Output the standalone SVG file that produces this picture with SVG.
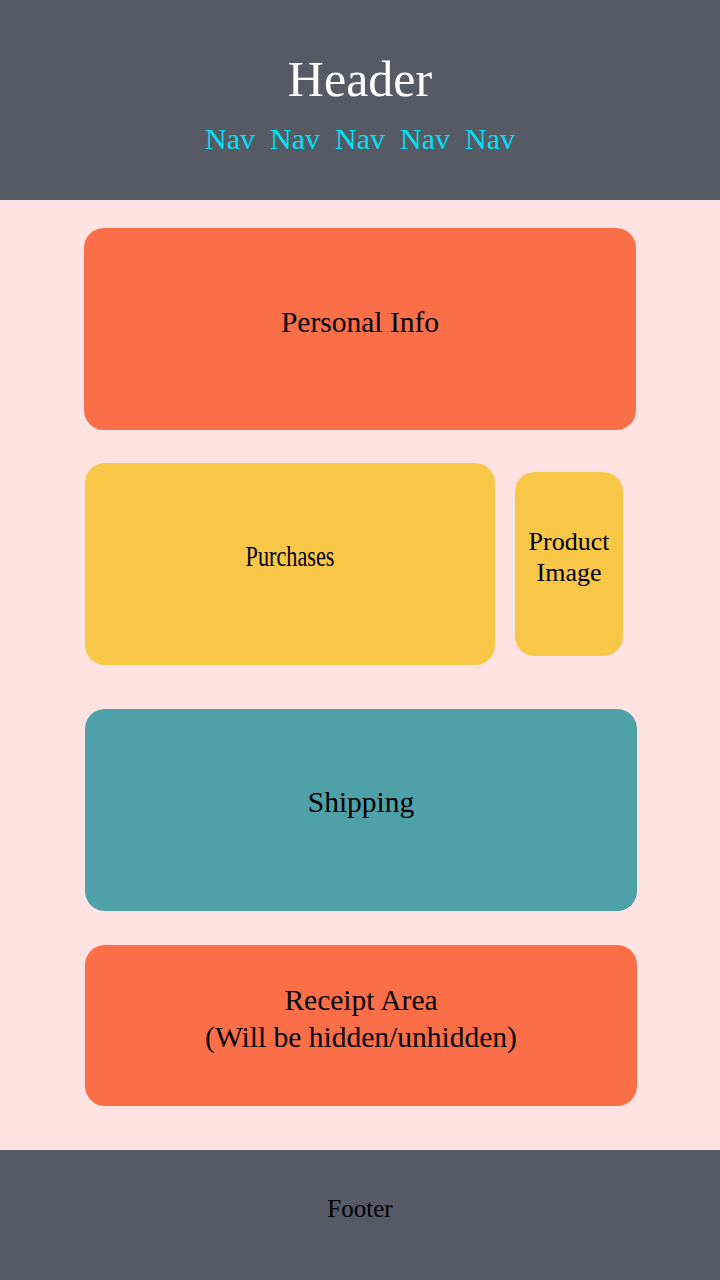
<svg xmlns="http://www.w3.org/2000/svg" width="720" height="1280" viewBox="0 0 720 1280">
<style>
text{font-family:"Liberation Serif","Times New Roman",serif;text-anchor:middle}
.lbl{font-size:29.5px;fill:#000}
.sm{font-size:26px;fill:#000}
.nav{font-size:30px;fill:#00e1f5}
</style>
<rect x="0" y="0" width="720" height="1280" fill="#ffe2e2"/>
<g id="header">
<rect x="0" y="0" width="720" height="200" fill="#555a64"/>
<text x="360" y="96" font-size="50" fill="#ffffff">Header</text>
<text class="nav" x="230" y="149">Nav</text>
<text class="nav" x="295" y="149">Nav</text>
<text class="nav" x="360" y="149">Nav</text>
<text class="nav" x="425" y="149">Nav</text>
<text class="nav" x="490" y="149">Nav</text>
</g>
<g id="personal-info">
<rect x="84" y="228" width="552" height="202" rx="20" fill="#fa6e48"/>
<text class="lbl" x="360" y="332">Personal Info</text>
</g>
<g id="purchases">
<rect x="85" y="463" width="410" height="202" rx="20" fill="#f8c748"/>
<text class="lbl" x="290" y="566" textLength="89" lengthAdjust="spacingAndGlyphs">Purchases</text>
</g>
<g id="product-image">
<rect x="515" y="472" width="108" height="184" rx="20" fill="#f8c748"/>
<text class="sm" x="569" y="550">Product</text>
<text class="sm" x="569" y="581">Image</text>
</g>
<g id="shipping">
<rect x="85" y="709" width="552" height="202" rx="20" fill="#4ea1a9"/>
<text class="lbl" x="361" y="812">Shipping</text>
</g>
<g id="receipt">
<rect x="85" y="945" width="552" height="161" rx="20" fill="#fa6e48"/>
<text class="lbl" x="361" y="1010">Receipt Area</text>
<text class="lbl" x="361" y="1047">(Will be hidden/unhidden)</text>
</g>
<g id="footer">
<rect x="0" y="1150" width="720" height="130" fill="#555a64"/>
<text x="360" y="1217" font-size="25" fill="#000">Footer</text>
</g>
<g id="connectors"/>
</svg>
